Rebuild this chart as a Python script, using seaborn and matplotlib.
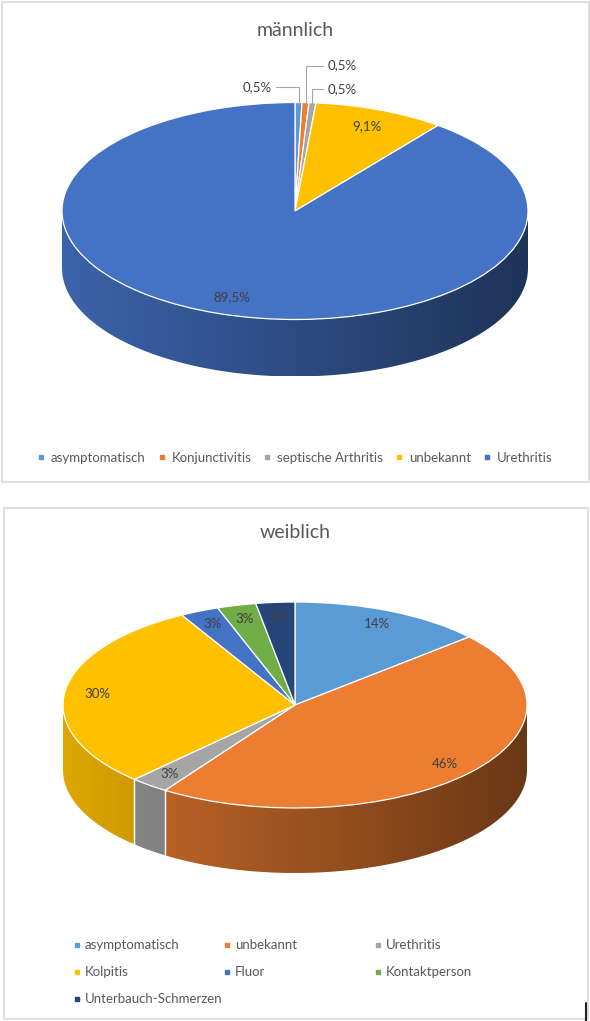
import numpy as np
import matplotlib
matplotlib.use("Agg")
import matplotlib.pyplot as plt
import matplotlib.colors as mcolors
from matplotlib.patches import Polygon, Rectangle
from matplotlib.lines import Line2D
import seaborn as sns

# männlich (counts read back from the shown percentages, n = 209)
m_labels = ["asymptomatisch", "Konjunctivitis", "septische Arthritis", "unbekannt", "Urethritis"]
m_counts = [1, 1, 1, 19, 187]
m_colors = ["#5B9BD5", "#ED7D31", "#A5A5A5", "#FFC000", "#4472C4"]

# weiblich (n = 37)
w_labels = ["asymptomatisch", "unbekannt", "Urethritis", "Kolpitis", "Fluor",
            "Kontaktperson", "Unterbauch-Schmerzen"]
w_counts = [5, 17, 1, 11, 1, 1, 1]
w_colors = ["#5B9BD5", "#ED7D31", "#A5A5A5", "#FFC000", "#4472C4", "#70AD47", "#264478"]

sns.set_theme(style="white")
plt.rcParams["font.family"] = ["Lato", "DejaVu Sans"]

W, H = 590, 1021
fig = plt.figure(figsize=(W / 100, H / 100), dpi=100)


def px_axes(x0, y0, w, h):
    return fig.add_axes([x0 / W, 1 - (y0 + h) / H, w / W, h / H])


# chart frames
for x0, y0, x1, y1 in [(2, 2, 589, 482), (4, 508, 588, 1019)]:
    fig.patches.append(Rectangle((x0 / W, 1 - y1 / H), (x1 - x0) / W, (y1 - y0) / H,
                                 transform=fig.transFigure, fill=False,
                                 edgecolor="#D9D9D9", lw=1.2))
fig.add_artist(Line2D([586 / W] * 2, [0, 18 / H], color="#202020", lw=1.5,
                      transform=fig.transFigure))


def front_ranges(t1, t2):
    out = []
    for k in range(-2, 3):
        lo, hi = 180 + 360 * k, 360 + 360 * k
        a, b = max(t1, lo), min(t2, hi)
        if b > a:
            out.append((a, b))
    return out


def pie3d(cx, cy, rx, ry, depth, counts, colors):
    d = depth / ry
    ax = px_axes(cx - rx, cy - ry, 2 * rx, 2 * ry + depth)
    wedges, _ = ax.pie(counts, colors=colors, startangle=90, counterclock=False,
                       radius=1, wedgeprops=dict(edgecolor="white", linewidth=0.9))
    for w in wedges:
        w.set_zorder(5)
    ax.set_aspect("auto")
    ax.axis("off")
    xs = np.linspace(-1, 1, 400)
    fac = 0.66 - 0.21 * xs  # side walls darken towards the right
    for w, c in zip(wedges, colors):
        rgb = np.array(mcolors.to_rgb(c))
        grad = (fac[:, None] * rgb[None, :])[None, :, :]
        for a, b in front_ranges(w.theta1, w.theta2):
            ts = np.radians(np.linspace(a, b, 200))
            top = np.column_stack([np.cos(ts), np.sin(ts)])
            bot = np.column_stack([np.cos(ts[::-1]), np.sin(ts[::-1]) - d])
            poly = Polygon(np.vstack([top, bot]), closed=True, facecolor="none",
                           edgecolor="none")
            ax.add_patch(poly)
            im = ax.imshow(grad, extent=(-1, 1, -1 - d, 1), aspect="auto",
                           origin="lower", zorder=2, interpolation="bilinear")
            im.set_clip_path(poly)
        for t in (w.theta1, w.theta2):
            rt = np.radians(t)
            if np.sin(rt) < -0.01:
                ax.plot([np.cos(rt)] * 2, [np.sin(rt), np.sin(rt) - d],
                        color="white", lw=0.9, zorder=3)
    ax.set_xlim(-1, 1)
    ax.set_ylim(-1 - d, 1)
    return ax, wedges


def mid_angle(w):
    return np.radians((w.theta1 + w.theta2) / 2)


fs = 9.5
txt_kw = dict(fontsize=fs, color="#404040", ha="center", va="center", zorder=10)

# ---- männlich ----
fig.text(0.5, 1 - 30 / H, "männlich", ha="center", va="center", fontsize=14, color="#595959")
ax1, wd1 = pie3d(295, 211, 233, 108.5, 57, m_counts, m_colors)
tot = sum(m_counts)
lead_pos = [(-0.10, 1.14, "right"), (0.14, 1.34, "left"), (0.14, 1.12, "left")]
for i, (w, v) in enumerate(zip(wd1, m_counts)):
    lab = f"{100 * v / tot:.1f}%".replace(".", ",")
    a = mid_angle(w)
    if i < 3:
        tx, ty, ha = lead_pos[i]
        ax1.annotate(lab, xy=(np.cos(a), np.sin(a)), xytext=(tx, ty),
                     ha=ha, va="center", fontsize=fs, color="#404040",
                     annotation_clip=False, zorder=10,
                     arrowprops=dict(arrowstyle="-", color="#A6A6A6", lw=0.8,
                                     shrinkA=1, shrinkB=0,
                                     connectionstyle="angle,angleA=0,angleB=90,rad=0"))
    else:
        ax1.text(0.84 * np.cos(a), 0.84 * np.sin(a), lab, **txt_kw)

h1 = [Line2D([], [], marker="s", ls="none", markersize=3.5, color=c) for c in m_colors]
fig.legend(h1, m_labels, ncol=5, loc="center", bbox_to_anchor=(0.5, 1 - 458 / H),
           frameon=False, fontsize=fs, handlelength=0.5, handletextpad=0.5,
           columnspacing=0.95, labelcolor="#595959")

# ---- weiblich ----
fig.text(0.5, 1 - 533 / H, "weiblich", ha="center", va="center", fontsize=14, color="#595959")
ax2, wd2 = pie3d(295, 705, 232, 103, 65, w_counts, w_colors)
tot = sum(w_counts)
for w, v in zip(wd2, w_counts):
    a = mid_angle(w)
    r = 0.86
    ax2.text(r * np.cos(a), r * np.sin(a), f"{100 * v / tot:.0f}%", **txt_kw)

col_x = [77, 227, 378]
row_y = [945, 972, 999]
for i, (lab, c) in enumerate(zip(w_labels, w_colors)):
    x = col_x[i % 3] / W
    y = 1 - row_y[i // 3] / H
    fig.add_artist(Line2D([x], [y], marker="s", markersize=3.5, color=c, ls="none",
                          transform=fig.transFigure))
    fig.text(x + 8 / W, y, lab, ha="left", va="center", fontsize=fs, color="#595959")

fig.savefig("out.png", dpi=100)
